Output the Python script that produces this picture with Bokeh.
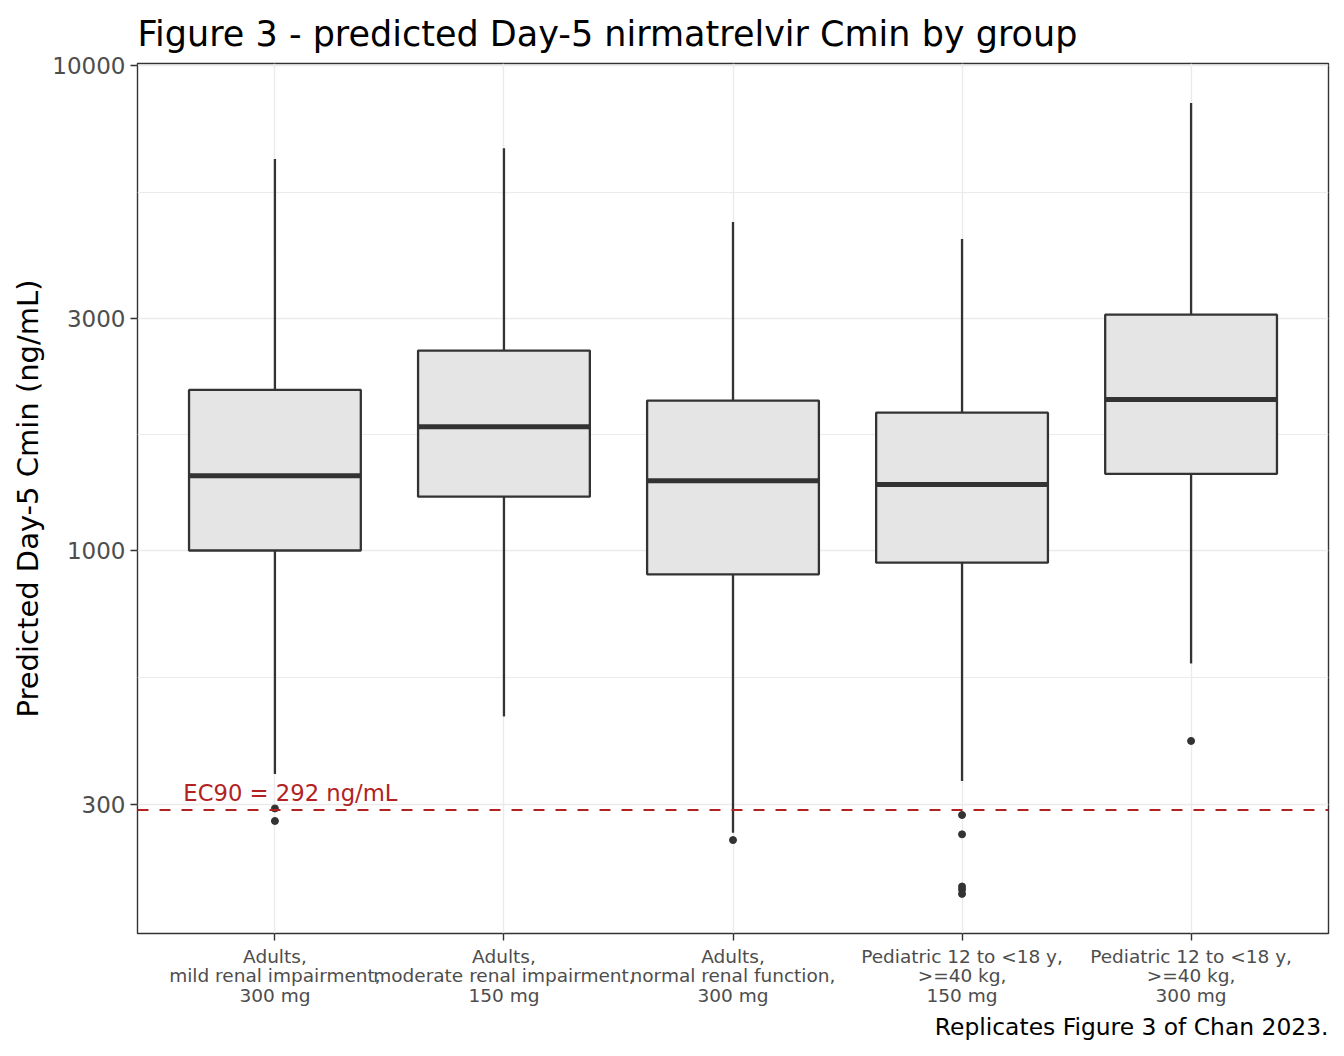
from bokeh.plotting import figure
from bokeh.models import Range1d, FixedTicker, Span, Label, Title, NumeralTickFormatter, ColumnDataSource
from bokeh.embed import file_html
from bokeh.resources import INLINE

categories = [
    "Adults,\nmild renal impairment,\n300 mg",
    "Adults,\nmoderate renal impairment,\n150 mg",
    "Adults,\nnormal renal function,\n300 mg",
    "Pediatric 12 to <18 y,\n>=40 kg,\n150 mg",
    "Pediatric 12 to <18 y,\n>=40 kg,\n300 mg",
]
upper = [6410, 6745, 4754, 4385, 8360]
q3 = [2143, 2583, 2037, 1923, 3062]
median = [1426, 1799, 1393, 1368, 2047]
q1 = [1000, 1291, 893, 944, 1439]
lower = [346, 455, 262, 335, 585]
outlier_group = [1, 1, 3, 4, 4, 4, 4, 4, 5]
outlier_value = [294, 277, 253, 285, 260, 203, 200, 196, 405]
y_ticks = [300, 1000, 3000, 10000]
y_minor = [547.7, 1732, 5477]
ec90 = 292

FONT = "DejaVu Sans"
DARK = "#333333"

pos = list(range(1, len(categories) + 1))
box_w = 0.75
src = ColumnDataSource(dict(
    x=pos, upper=upper, q3=q3, med=median, q1=q1, lower=lower,
    x0=[p - box_w / 2 for p in pos], x1=[p + box_w / 2 for p in pos],
))

p = figure(width=1338, height=1048, y_axis_type="log",
           x_range=Range1d(0.4, 5.6), y_range=Range1d(162.4, 10086),
           output_backend="svg", toolbar_location=None,
           min_border_left=137, min_border_right=10, min_border_top=63,
           min_border_bottom=115)

p.title.text = "Figure 3 - predicted Day-5 nirmatrelvir Cmin by group"
p.title.text_font = FONT
p.title.text_font_size = "35px"
p.title.text_font_style = "normal"
p.title.text_color = "black"
p.title.align = "left"
p.title.standoff = 19

p.add_layout(Title(text="Replicates Figure 3 of Chan 2023.", align="right",
                   text_font=FONT, text_font_size="23.4px", text_font_style="normal",
                   text_color="black", standoff=2), "below")

# grids
p.xgrid.ticker = FixedTicker(ticks=pos)
p.xgrid.grid_line_color = "#EBEBEB"
p.xgrid.grid_line_width = 1.4
p.ygrid.ticker = FixedTicker(ticks=y_ticks, minor_ticks=y_minor)
p.ygrid.grid_line_color = "#EBEBEB"
p.ygrid.grid_line_width = 1.4
p.ygrid.minor_grid_line_color = "#EBEBEB"
p.ygrid.minor_grid_line_width = 1.0

p.outline_line_color = DARK
p.outline_line_width = 1.4

# axes
p.xaxis.ticker = FixedTicker(ticks=pos)
p.xaxis.major_label_overrides = {i: c for i, c in zip(pos, categories)}
p.xaxis.major_label_text_font = FONT
p.xaxis.major_label_text_font_size = "18.5px"
p.xaxis.major_label_text_color = "#4D4D4D"
p.xaxis.major_label_text_line_height = 0.95
p.yaxis.ticker = FixedTicker(ticks=y_ticks, minor_ticks=[])
p.yaxis.formatter = NumeralTickFormatter(format="0")
p.yaxis.major_label_text_font = FONT
p.yaxis.major_label_text_font_size = "23px"
p.yaxis.major_label_text_color = "#4D4D4D"
p.yaxis.axis_label = "Predicted Day-5 Cmin (ng/mL)"
p.yaxis.axis_label_text_font = FONT
p.yaxis.axis_label_text_font_size = "29px"
p.yaxis.axis_label_text_font_style = "normal"
p.yaxis.axis_label_text_color = "black"
p.yaxis.axis_label_standoff = 4
for ax in (p.xaxis, p.yaxis):
    ax.axis_line_color = None
    ax.major_tick_line_color = DARK
    ax.major_tick_line_width = 1.4
    ax.major_tick_out = 7
    ax.major_tick_in = 0
    ax.minor_tick_line_color = None
    ax.major_label_standoff = 5

# boxplots
p.segment(x0="x", y0="q3", x1="x", y1="upper", source=src, line_color=DARK, line_width=2.3)
p.segment(x0="x", y0="q1", x1="x", y1="lower", source=src, line_color=DARK, line_width=2.3)
p.vbar(x="x", width=box_w, bottom="q1", top="q3", source=src,
       fill_color="#E5E5E5", line_color=DARK, line_width=2.3)
p.segment(x0="x0", y0="med", x1="x1", y1="med", source=src, line_color=DARK, line_width=5)
p.scatter(x=outlier_group, y=outlier_value, size=7, color=DARK)

# EC90 reference
p.add_layout(Span(location=ec90, dimension="width", line_color="#B22222",
                  line_width=2, line_dash="11 11"))
p.add_layout(Label(x=0.6, y=ec90, text="EC90 = 292 ng/mL", text_align="left",
                   text_baseline="bottom", y_offset=4, text_font=FONT,
                   text_font_size="22.7px", text_color="#B22222"))

open("out.html", "w").write(file_html(p, INLINE))
